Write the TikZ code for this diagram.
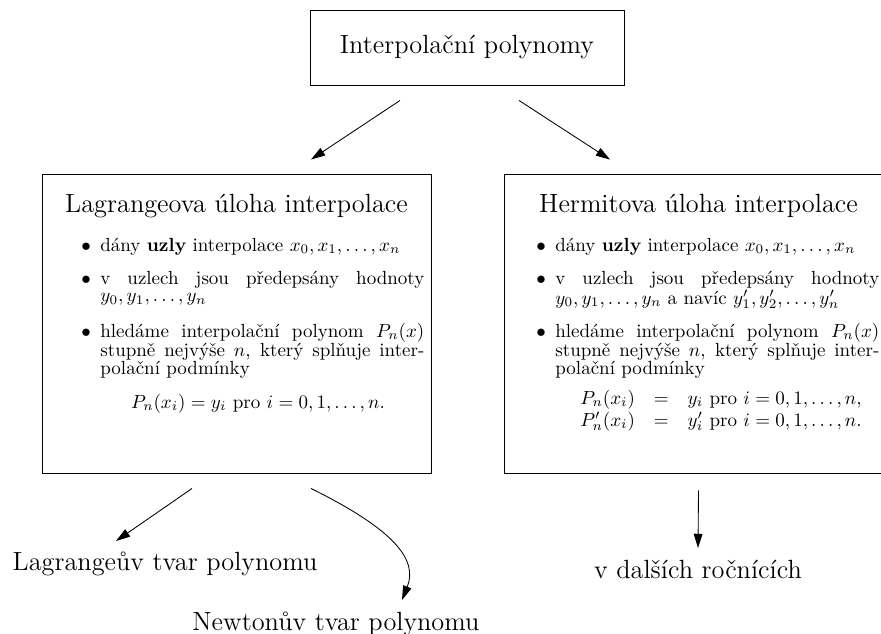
\documentclass[tikz,border=0pt]{standalone}
\usepackage{fontspec}
\usetikzlibrary{arrows.meta,calc}
\begin{document}
\begin{tikzpicture}[x=0.5263pt,y=-0.5263pt,
  box/.style={draw, line width=0.45pt, inner sep=0pt},
  big/.style={font=\fontsize{13.85}{16}\selectfont, inner sep=0pt},
  item/.style={inner sep=0pt, anchor=base west, font=\fontsize{10}{9.2}\selectfont},
  arr/.style={-{Triangle[length=7.5pt,width=4.6pt]}, line width=0.45pt}]
\useasboundingbox (0,0) rectangle (881,633);
% boxes
\node[box, big, minimum width=165.3pt, minimum height=39.5pt] (top) at (467,47.5) {Interpolační polynomy};
\node[box, minimum width=204.7pt, minimum height=157.4pt] (lbox) at (236.5,323.5) {};
\node[box, minimum width=204.7pt, minimum height=157.4pt] (rbox) at (698.5,323.5) {};
% left box content
\node[big, anchor=base] (ltitle) at (236.5,212) {Lagrangeova úloha interpolace};
\node[item] (l1) at (100,251) {\parbox[t]{170.5pt}{\leavevmode\llap{$\bullet$\hspace{5pt}}dány \textbf{uzly} interpolace $x_0,x_1,\dots,x_n$}};
\node[item] (l2) at (100,284) {\parbox[t]{170.5pt}{\leavevmode\llap{$\bullet$\hspace{5pt}}v uzlech jsou předepsány hodnoty\linebreak $y_0,y_1,\dots,y_n$}};
\node[item] (l3) at (100,337) {\parbox[t]{170.5pt}{\leavevmode\llap{$\bullet$\hspace{5pt}}hledáme interpolační polynom $P_n(x)$\linebreak stupně nejvýše $n$, který splňuje inter-\linebreak polační podmínky}};
\node[item, anchor=base] (lf) at (258,408) {$P_n(x_i)=y_i$ pro $i=0,1,\dots,n.$};
% right box content
\node[big, anchor=base] (rtitle) at (698.5,212) {Hermitova úloha interpolace};
\node[item] (r1) at (555,251) {\parbox[t]{170.5pt}{\leavevmode\llap{$\bullet$\hspace{5pt}}dány \textbf{uzly} interpolace $x_0,x_1,\dots,x_n$}};
\node[item] (r2) at (555,284) {\parbox[t]{170.5pt}{\leavevmode\llap{$\bullet$\hspace{5pt}}v uzlech jsou předepsány hodnoty\linebreak $y_0,y_1,\dots,y_n$ a navíc $y_1',y_2',\dots,y_n'$}};
\node[item] (r3) at (555,337) {\parbox[t]{170.5pt}{\leavevmode\llap{$\bullet$\hspace{5pt}}hledáme interpolační polynom $P_n(x)$\linebreak stupně nejvýše $n$, který splňuje inter-\linebreak polační podmínky}};
\node[item] (rf) at (580,404) {$\begin{array}[t]{@{}rcl@{}}
 P_n(x_i) & = & y_i \mbox{ pro } i=0,1,\dots,n,\\[1.3pt]
 P_n'(x_i) & = & y_i' \mbox{ pro } i=0,1,\dots,n.
 \end{array}$};
% bottom texts
\node[big, anchor=base] (lag) at (165,570) {Lagrangeův tvar polynomu};
\node[big, anchor=base west] (newt) at (192,630) {Newtonův tvar polynomu};
\node[big, anchor=base] (dal) at (698,578) {v dalších ročnících};
% connectors
\draw[arr] ($(top.south)+(-67,15)$) -- ($(lbox.north)+(74.5,-14)$);
\draw[arr] ($(top.south)+(52,15)$) -- ($(rbox.north)+(-88.5,-14)$);
\draw[arr] ($(lbox.south)+(-44.5,15)$) -- ($(lag.base)+(-49,-29)$);
\draw[arr] ($(lbox.south)+(74.5,15)$) .. controls (395,530) and (418,560) .. ($(newt.base west)+(210,-30)$);
\draw[arr] ($(rbox.south)+(0,17)$) -- ($(dal.base)+(0,-30)$);
\end{tikzpicture}
\end{document}
